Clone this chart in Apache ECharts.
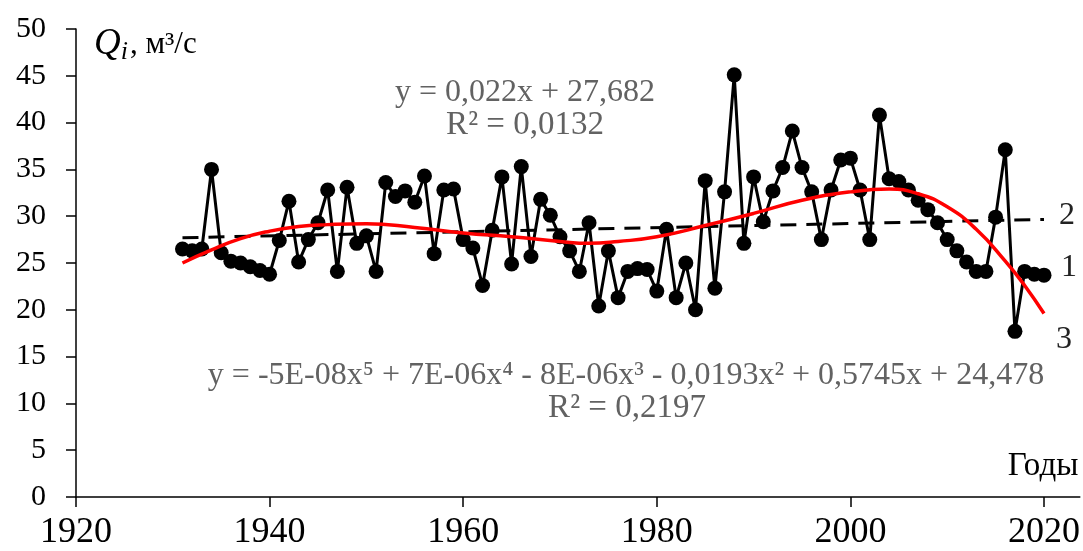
<!DOCTYPE html>
<html>
<head>
<meta charset="utf-8">
<script src="https://cdn.jsdelivr.net/npm/echarts@6/dist/echarts.min.js"></script>
<style>
html,body{margin:0;padding:0;background:#fff;}
#chart{width:1083px;height:551px;}
</style>
</head>
<body>
<div id="chart"></div>
<script>
const years = [1931,1932,1933,1934,1935,1936,1937,1938,1939,1940,
  1941,1942,1943,1944,1945,1946,1947,1948,1949,1950,
  1951,1952,1953,1954,1955,1956,1957,1958,1959,1960,
  1961,1962,1963,1964,1965,1966,1967,1968,1969,1970,
  1971,1972,1973,1974,1975,1976,1977,1978,1979,1980,
  1981,1982,1983,1984,1985,1986,1987,1988,1989,1990,
  1991,1992,1993,1994,1995,1996,1997,1998,1999,2000,
  2001,2002,2003,2004,2005,2006,2007,2008,2009,2010,
  2011,2012,2013,2014,2015,2016,2017,2018,2019,2020];
const flow = [26.5,26.3,26.5,35.0,26.1,25.2,25.0,24.6,24.2,23.8,
  27.4,31.6,25.1,27.5,29.3,32.8,24.1,33.1,27.1,27.9,
  24.1,33.6,32.1,32.7,31.5,34.3,26.0,32.8,32.9,27.5,
  26.6,22.6,28.5,34.2,24.9,35.3,25.7,31.8,30.1,27.8,
  26.3,24.1,29.3,20.4,26.3,21.3,24.1,24.4,24.3,22.0,
  28.6,21.3,25.0,20.0,33.8,22.3,32.6,45.1,27.1,34.2,
  29.4,32.7,35.2,39.1,35.2,32.6,27.5,32.8,36.0,36.2,
  32.8,27.5,40.8,34.0,33.7,32.8,31.7,30.7,29.3,27.5,
  26.3,25.1,24.1,24.1,29.9,37.1,17.7,24.1,23.8,23.7];
const linYears = [1931, 2020];
const linValues = [27.70, 29.66];
const polyYears = [1931,1934,1937,1940,1943,1946,1950,1955,1960,1965,1970,1973,1976,1980,1985,1990,1995,2000,2004,2007,2010,2013,2016,2018,2020];
const polyValues = [25.0,26.4,27.6,28.4,28.9,29.1,29.2,28.8,28.2,27.8,27.3,27.1,27.3,27.8,29.0,30.3,31.7,32.6,32.9,32.4,31.0,28.6,25.2,22.6,19.6];
const xTicks = [1920,1940,1960,1980,2000,2020];
const yTicks = [0,5,10,15,20,25,30,35,40,45,50];

const pairs = (xs, ys) => xs.map((x, i) => [x, ys[i]]);
const serif = 'Liberation Serif';

const chart = echarts.init(document.getElementById('chart'), null, {renderer: 'canvas'});
chart.setOption({
  animation: false,
  backgroundColor: '#fff',
  grid: {left: 76, top: 29, bottom: 54, right: 0, containLabel: false},
  xAxis: {
    type: 'value', min: 1920, max: 2023.7,
    axisLine: {show: true, lineStyle: {color: '#000', width: 1.5}},
    axisTick: {show: true, length: 10, customValues: xTicks, lineStyle: {color: '#000', width: 1.5}},
    splitLine: {show: false},
    axisLabel: {
      color: '#000', fontFamily: serif, fontSize: 36, margin: 18,
      customValues: xTicks,
      formatter: v => (xTicks.indexOf(v) >= 0 ? String(v) : '')
    }
  },
  yAxis: {
    type: 'value', min: 0, max: 50, interval: 5,
    axisLine: {show: true, lineStyle: {color: '#000', width: 1.5}},
    axisTick: {show: true, length: 10, lineStyle: {color: '#000', width: 1.5}},
    splitLine: {show: false},
    axisLabel: {
      color: '#000', fontFamily: serif, fontSize: 30, margin: 30,
      formatter: v => (yTicks.indexOf(v) >= 0 ? String(v) : '')
    }
  },
  series: [
    {
      name: 'linear', type: 'line', data: pairs(linYears, linValues),
      showSymbol: false, symbol: 'none',
      lineStyle: {color: '#000', width: 3, type: [16, 10]}, z: 2
    },
    {
      name: 'flow', type: 'line', data: pairs(years, flow),
      symbol: 'circle', symbolSize: 15,
      itemStyle: {color: '#000'},
      lineStyle: {color: '#000', width: 3}, z: 3
    },
    {
      name: 'poly', type: 'line', data: pairs(polyYears, polyValues),
      smooth: true, showSymbol: false, symbol: 'none',
      lineStyle: {color: '#ff0000', width: 3.5}, z: 4
    }
  ],
  graphic: [
    {type: 'text', left: 94, top: 26, style: {
      rich: {
        q: {fontFamily: serif, fontStyle: 'italic', fontSize: 37, fill: '#000'},
        i: {fontFamily: serif, fontStyle: 'italic', fontSize: 26, fill: '#000', padding: [16, 2, 0, 0]},
        t: {fontFamily: serif, fontSize: 31, fill: '#000'}
      },
      text: '{q|Q}{i|i}{t|, м³/с}'
    }},
    {type: 'text', x: 525, y: 93, style: {text: 'y = 0,022x + 27,682', fontFamily: serif, fontSize: 32, fill: '#626262', align: 'center', verticalAlign: 'middle'}},
    {type: 'text', x: 525, y: 125, style: {text: 'R² = 0,0132', fontFamily: serif, fontSize: 33, fill: '#626262', align: 'center', verticalAlign: 'middle'}},
    {type: 'text', x: 626, y: 376, style: {text: 'y = -5E-08x⁵ + 7E-06x⁴ - 8E-06x³ - 0,0193x² + 0,5745x + 24,478', fontFamily: serif, fontSize: 32, fill: '#626262', align: 'center', verticalAlign: 'middle'}},
    {type: 'text', x: 627, y: 408, style: {text: 'R² = 0,2197', fontFamily: serif, fontSize: 33, fill: '#626262', align: 'center', verticalAlign: 'middle'}},
    {type: 'text', x: 1043, y: 466, style: {text: 'Годы', fontFamily: serif, fontSize: 33, fill: '#000', align: 'center', verticalAlign: 'middle'}},
    {type: 'text', x: 1067, y: 216, style: {text: '2', fontFamily: serif, fontSize: 32, fill: '#222', align: 'center', verticalAlign: 'middle'}},
    {type: 'text', x: 1069, y: 268, style: {text: '1', fontFamily: serif, fontSize: 32, fill: '#222', align: 'center', verticalAlign: 'middle'}},
    {type: 'text', x: 1064, y: 340, style: {text: '3', fontFamily: serif, fontSize: 32, fill: '#222', align: 'center', verticalAlign: 'middle'}}
  ]
});
</script>
</body>
</html>
